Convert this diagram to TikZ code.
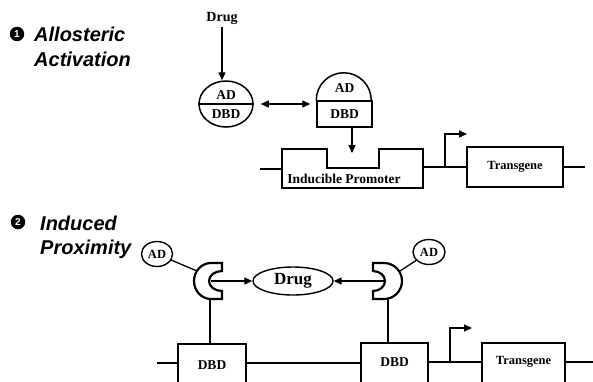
\documentclass[tikz,border=0pt]{standalone}
\usepackage{fontspec}
\setmainfont{Liberation Serif}
\newfontfamily\helv{Liberation Sans}
\usetikzlibrary{shapes.geometric,arrows.meta}
\begin{document}
\begin{tikzpicture}[x=1pt,y=-1pt,
  lbl/.style={font=\bfseries\fontsize{13.5}{15}\selectfont, inner sep=0pt},
  lblsm/.style={font=\bfseries\fontsize{12.5}{14}\selectfont, inner sep=0pt},
  ttl/.style={font=\helv\bfseries\itshape\fontsize{20}{24}\selectfont, inner sep=0pt, anchor=base west},
  num/.style={circle, fill=black, text=white, inner sep=0pt, minimum size=14.5pt, font=\helv\bfseries\fontsize{10}{10}\selectfont},
  ln/.style={line width=1.3pt},
  arr/.style={ln, -{Triangle[length=8pt,width=7pt]}},
  darr/.style={ln, {Triangle[length=8pt,width=7pt]}-{Triangle[length=8pt,width=7pt]}},
  box/.style={draw, line width=1.5pt, inner sep=0pt},
  cup/.style={draw, line width=2.2pt, line join=miter, fill=white},
  oval/.style={ellipse, draw, line width=1.4pt, inner sep=0pt},
]
\clip (0,0) rectangle (593,381);

% ---------- Section 1 ----------
\node[num] (n1) at (17,34) {1};
\node[ttl] (t1a) at (34,41) {Allosteric};
\node[ttl] (t1b) at (34,66) {Activation};

\node[lbl, font=\bfseries\fontsize{14}{16}\selectfont] (drug1) at (222,18) {Drug};

\node[oval, line width=1.5pt, minimum width=54pt, minimum height=46pt] (e1) at (226,104) {};
\draw[line width=1.5pt] (e1.west) -- (e1.east);
\node[lbl] (ad1) at (226,95) {AD};
\node[lbl] (dbd1a) at (226,114) {DBD};

\draw[arr, shorten <=3pt] (drug1.south) -- (drug1.south |- e1.north);

\node[box, minimum width=55pt, minimum height=26pt] (dbd1) at (344.5,114) {};
\node[lbl] (dbd1t) at (dbd1) {DBD};
\draw[line width=1.5pt] (dbd1.north west) arc[start angle=180, end angle=360, radius=27.5];
\node[lbl] (ad1b) at (344.5,88) {AD};

\draw[darr, shorten <=7pt, shorten >=6pt] (e1.east) -- (e1.east -| dbd1.west);

\coordinate (notch) at (352,168);
\draw[arr, shorten >=15pt] (dbd1.south -| notch) -- (notch);

\draw[line width=1.5pt] (282,169) -- (282,149) -- (327,149) -- (327,168) -- (379,168)
  -- (379,149) -- (423,149) -- (423,188) -- (282,188) -- cycle;
\node[lbl] (prom) at (344,179) {Inducible Promoter};
\coordinate (dna1) at (260,169);
\draw[ln] (dna1) -- (282,169);

\node[box, minimum width=96pt, minimum height=40pt, font=\bfseries\fontsize{12.5}{14}\selectfont] (tg1) at (515,167) {Transgene};
\coordinate (promR) at (423,167);
\draw[ln] (promR) -- (tg1.west);
\draw[arr] (445,167) -- (445,134) -- (467,134);
\coordinate (dna1e) at (585,167);
\draw[ln] (tg1.east) -- (dna1e);

% ---------- Section 2 ----------
\node[num] (n2) at (18,222) {2};
\node[ttl] (t2a) at (40,230) {Induced};
\node[ttl] (t2b) at (40,254) {Proximity};

\node[oval, minimum width=31pt, minimum height=25pt, lblsm] (ad2a) at (157,254) {AD};
\node[oval, minimum width=32pt, minimum height=25pt, lblsm] (ad2b) at (429,252) {AD};

\node[oval, minimum width=80pt, minimum height=28pt, font=\bfseries\fontsize{17}{19}\selectfont] (drug2) at (293,281) {Drug};

\coordinate (cupL) at (211,281);
\coordinate (cupR) at (384,281);

\draw[ln] (ad2a) -- ([shift={(-14,-10)}]cupL);
\draw[ln] (ad2b) -- ([shift={(16,-10)}]cupR);

\draw[arr] (cupL) -- (drug2.west);
\draw[arr] (cupR) -- (drug2.east);

\draw[cup] (222,263) -- (211,263) arc[start angle=270, end angle=90, x radius=17, y radius=18]
  -- (222,299) -- (222,291) arc[start angle=90, end angle=270, x radius=13, y radius=10] -- cycle;
\draw[cup] (373,263) -- (384,263) arc[start angle=270, end angle=450, x radius=18, y radius=18]
  -- (373,299) -- (373,291) arc[start angle=90, end angle=-90, x radius=12, y radius=10] -- cycle;

\node[box, minimum width=68pt, minimum height=60pt, anchor=north] (dbdL) at (212,343) {};
\node[lbl] (dbdLt) at (212,365) {DBD};
\node[box, minimum width=67pt, minimum height=60pt, anchor=north] (dbdR) at (394.5,342) {};
\node[lbl] (dbdRt) at (394.5,362) {DBD};
\node[box, minimum width=83pt, minimum height=60pt, anchor=north] (tg2) at (523.5,342) {};
\node[lblsm] (tg2t) at (523.5,362) {Transgene};

\coordinate (cupLb) at (210,299);
\coordinate (cupRb) at (388,299);
\draw[ln] (cupLb) -- (cupLb |- dbdL.north);
\draw[ln] (cupRb) -- (cupRb |- dbdR.north);

\coordinate (dnaL) at (157,363);
\coordinate (dnaR) at (593,362);
\draw[ln] (dnaL) -- (dnaL -| dbdL.west);
\draw[ln] (dnaL -| dbdL.east) -- (dnaL -| dbdR.west);
\draw[ln] (dnaR -| dbdR.east) -- (dnaR -| tg2.west);
\draw[ln] (tg2.east |- dnaR) -- (dnaR);
\draw[arr] (450,362) -- (450,328) -- (472,328);
\end{tikzpicture}
\end{document}
